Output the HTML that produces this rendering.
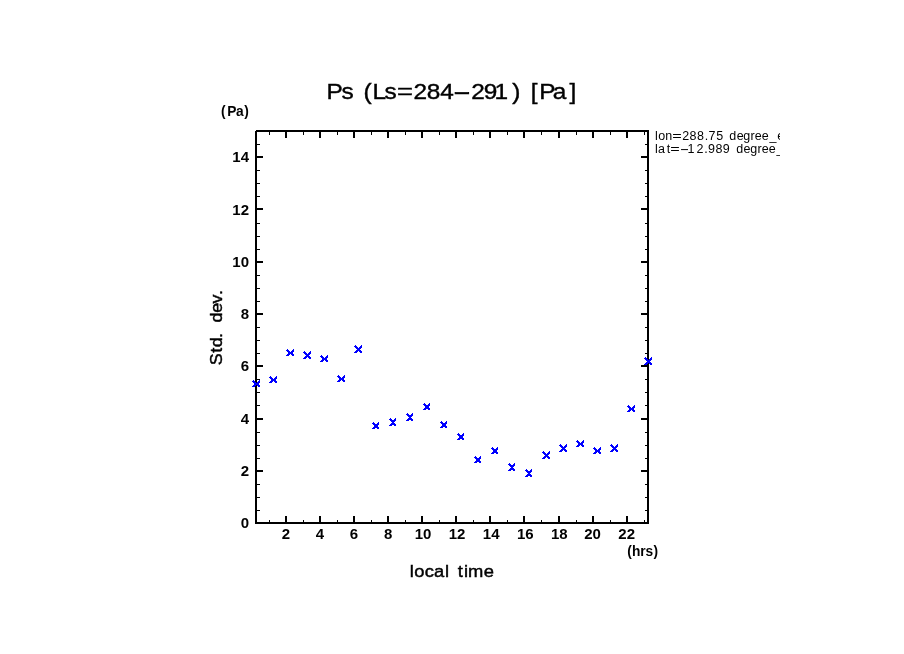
<!DOCTYPE html>
<html lang="en"><head><meta charset="utf-8"><title>Ps (Ls=284-291) [Pa]</title>
<style>
html,body{margin:0;padding:0;background:#fff;}
body{width:904px;height:654px;overflow:hidden;}
svg{display:block;}
text{font-family:"Liberation Sans",sans-serif;fill:#000;}
.b{font-weight:bold;}
</style></head><body>
<svg width="904" height="654" viewBox="0 0 904 654">
<rect x="0" y="0" width="904" height="654" fill="#ffffff"/>
<g shape-rendering="crispEdges" fill="#000">
<rect x="255" y="130" width="394" height="2"/>
<rect x="255" y="522" width="394" height="2"/>
<rect x="255" y="130" width="2" height="394"/>
<rect x="647" y="130" width="2" height="394"/>
<rect x="269" y="132" width="1" height="3"/>
<rect x="269" y="520" width="1" height="2"/>
<rect x="285" y="132" width="2" height="6"/>
<rect x="285" y="516" width="2" height="6"/>
<rect x="303" y="132" width="1" height="3"/>
<rect x="303" y="520" width="1" height="2"/>
<rect x="319" y="132" width="2" height="6"/>
<rect x="319" y="516" width="2" height="6"/>
<rect x="337" y="132" width="1" height="3"/>
<rect x="337" y="520" width="1" height="2"/>
<rect x="353" y="132" width="2" height="6"/>
<rect x="353" y="516" width="2" height="6"/>
<rect x="371" y="132" width="1" height="3"/>
<rect x="371" y="520" width="1" height="2"/>
<rect x="387" y="132" width="2" height="6"/>
<rect x="387" y="516" width="2" height="6"/>
<rect x="405" y="132" width="1" height="3"/>
<rect x="405" y="520" width="1" height="2"/>
<rect x="421" y="132" width="2" height="6"/>
<rect x="421" y="516" width="2" height="6"/>
<rect x="439" y="132" width="1" height="3"/>
<rect x="439" y="520" width="1" height="2"/>
<rect x="455" y="132" width="2" height="6"/>
<rect x="455" y="516" width="2" height="6"/>
<rect x="473" y="132" width="1" height="3"/>
<rect x="473" y="520" width="1" height="2"/>
<rect x="489" y="132" width="2" height="6"/>
<rect x="489" y="516" width="2" height="6"/>
<rect x="507" y="132" width="1" height="3"/>
<rect x="507" y="520" width="1" height="2"/>
<rect x="523" y="132" width="2" height="6"/>
<rect x="523" y="516" width="2" height="6"/>
<rect x="541" y="132" width="1" height="3"/>
<rect x="541" y="520" width="1" height="2"/>
<rect x="558" y="132" width="2" height="6"/>
<rect x="558" y="516" width="2" height="6"/>
<rect x="576" y="132" width="1" height="3"/>
<rect x="576" y="520" width="1" height="2"/>
<rect x="592" y="132" width="2" height="6"/>
<rect x="592" y="516" width="2" height="6"/>
<rect x="610" y="132" width="1" height="3"/>
<rect x="610" y="520" width="1" height="2"/>
<rect x="626" y="132" width="2" height="6"/>
<rect x="626" y="516" width="2" height="6"/>
<rect x="644" y="132" width="1" height="3"/>
<rect x="644" y="520" width="1" height="2"/>
<rect x="257" y="510" width="3" height="1"/>
<rect x="645" y="510" width="2" height="1"/>
<rect x="257" y="497" width="3" height="1"/>
<rect x="645" y="497" width="2" height="1"/>
<rect x="257" y="484" width="3" height="1"/>
<rect x="645" y="484" width="2" height="1"/>
<rect x="257" y="470" width="6" height="2"/>
<rect x="641" y="470" width="6" height="2"/>
<rect x="257" y="458" width="3" height="1"/>
<rect x="645" y="458" width="2" height="1"/>
<rect x="257" y="445" width="3" height="1"/>
<rect x="645" y="445" width="2" height="1"/>
<rect x="257" y="432" width="3" height="1"/>
<rect x="645" y="432" width="2" height="1"/>
<rect x="257" y="418" width="6" height="2"/>
<rect x="641" y="418" width="6" height="2"/>
<rect x="257" y="405" width="3" height="1"/>
<rect x="645" y="405" width="2" height="1"/>
<rect x="257" y="392" width="3" height="1"/>
<rect x="645" y="392" width="2" height="1"/>
<rect x="257" y="379" width="3" height="1"/>
<rect x="645" y="379" width="2" height="1"/>
<rect x="257" y="365" width="6" height="2"/>
<rect x="641" y="365" width="6" height="2"/>
<rect x="257" y="353" width="3" height="1"/>
<rect x="645" y="353" width="2" height="1"/>
<rect x="257" y="340" width="3" height="1"/>
<rect x="645" y="340" width="2" height="1"/>
<rect x="257" y="327" width="3" height="1"/>
<rect x="645" y="327" width="2" height="1"/>
<rect x="257" y="313" width="6" height="2"/>
<rect x="641" y="313" width="6" height="2"/>
<rect x="257" y="301" width="3" height="1"/>
<rect x="645" y="301" width="2" height="1"/>
<rect x="257" y="288" width="3" height="1"/>
<rect x="645" y="288" width="2" height="1"/>
<rect x="257" y="275" width="3" height="1"/>
<rect x="645" y="275" width="2" height="1"/>
<rect x="257" y="261" width="6" height="2"/>
<rect x="641" y="261" width="6" height="2"/>
<rect x="257" y="249" width="3" height="1"/>
<rect x="645" y="249" width="2" height="1"/>
<rect x="257" y="236" width="3" height="1"/>
<rect x="645" y="236" width="2" height="1"/>
<rect x="257" y="223" width="3" height="1"/>
<rect x="645" y="223" width="2" height="1"/>
<rect x="257" y="208" width="6" height="2"/>
<rect x="641" y="208" width="6" height="2"/>
<rect x="257" y="196" width="3" height="1"/>
<rect x="645" y="196" width="2" height="1"/>
<rect x="257" y="183" width="3" height="1"/>
<rect x="645" y="183" width="2" height="1"/>
<rect x="257" y="170" width="3" height="1"/>
<rect x="645" y="170" width="2" height="1"/>
<rect x="257" y="156" width="6" height="2"/>
<rect x="641" y="156" width="6" height="2"/>
<rect x="257" y="144" width="3" height="1"/>
<rect x="645" y="144" width="2" height="1"/>
<rect x="255" y="130" width="1" height="1" fill="#fff"/>
</g>
<g shape-rendering="crispEdges" fill="#0000ff">
<path d="M253 380h1v1h-1zM259 380h1v1h-1zM252 381h3v1h-3zM258 381h2v1h-2zM253 382h3v1h-3zM257 382h3v1h-3zM254 383h5v1h-5zM254 384h5v1h-5zM253 385h3v1h-3zM257 385h3v1h-3zM252 386h3v1h-3zM258 386h2v1h-2zM270 376h1v1h-1zM276 376h1v1h-1zM269 377h3v1h-3zM275 377h2v1h-2zM270 378h3v1h-3zM274 378h3v1h-3zM271 379h5v1h-5zM271 380h5v1h-5zM270 381h3v1h-3zM274 381h3v1h-3zM269 382h3v1h-3zM275 382h2v1h-2zM287 349h1v1h-1zM293 349h1v1h-1zM286 350h3v1h-3zM292 350h2v1h-2zM287 351h3v1h-3zM291 351h3v1h-3zM288 352h5v1h-5zM288 353h5v1h-5zM287 354h3v1h-3zM291 354h3v1h-3zM286 355h3v1h-3zM292 355h2v1h-2zM304 351h1v1h-1zM310 351h1v1h-1zM303 352h3v1h-3zM309 352h2v1h-2zM304 353h3v1h-3zM308 353h3v1h-3zM305 354h5v1h-5zM306 355h3v1h-3zM305 356h5v1h-5zM304 357h3v1h-3zM308 357h3v1h-3zM303 358h3v1h-3zM309 358h2v1h-2zM321 355h1v1h-1zM327 355h1v1h-1zM320 356h3v1h-3zM326 356h2v1h-2zM321 357h3v1h-3zM325 357h3v1h-3zM322 358h5v1h-5zM322 359h5v1h-5zM321 360h3v1h-3zM325 360h3v1h-3zM320 361h3v1h-3zM326 361h2v1h-2zM338 375h1v1h-1zM344 375h1v1h-1zM337 376h3v1h-3zM343 376h2v1h-2zM338 377h3v1h-3zM342 377h3v1h-3zM339 378h5v1h-5zM339 379h5v1h-5zM338 380h3v1h-3zM342 380h3v1h-3zM337 381h3v1h-3zM343 381h2v1h-2zM355 345h1v1h-1zM361 345h1v1h-1zM354 346h3v1h-3zM360 346h2v1h-2zM355 347h3v1h-3zM359 347h3v1h-3zM356 348h5v1h-5zM357 349h3v1h-3zM356 350h5v1h-5zM355 351h3v1h-3zM359 351h3v1h-3zM354 352h3v1h-3zM360 352h2v1h-2zM373 422h1v1h-1zM378 422h1v1h-1zM372 423h3v1h-3zM377 423h2v1h-2zM373 424h6v1h-6zM374 425h4v1h-4zM374 426h4v1h-4zM373 427h6v1h-6zM372 428h3v1h-3zM377 428h2v1h-2zM390 418h1v1h-1zM395 418h1v1h-1zM389 419h3v1h-3zM394 419h2v1h-2zM390 420h6v1h-6zM391 421h4v1h-4zM392 422h2v1h-2zM391 423h4v1h-4zM390 424h6v1h-6zM389 425h3v1h-3zM394 425h2v1h-2zM407 413h1v1h-1zM412 413h1v1h-1zM406 414h3v1h-3zM411 414h2v1h-2zM407 415h6v1h-6zM408 416h4v1h-4zM409 417h2v1h-2zM408 418h4v1h-4zM407 419h6v1h-6zM406 420h3v1h-3zM411 420h2v1h-2zM424 403h1v1h-1zM429 403h1v1h-1zM423 404h3v1h-3zM428 404h2v1h-2zM424 405h6v1h-6zM425 406h4v1h-4zM425 407h4v1h-4zM424 408h6v1h-6zM423 409h3v1h-3zM428 409h2v1h-2zM441 421h1v1h-1zM446 421h1v1h-1zM440 422h3v1h-3zM445 422h2v1h-2zM441 423h6v1h-6zM442 424h4v1h-4zM442 425h4v1h-4zM441 426h6v1h-6zM440 427h3v1h-3zM445 427h2v1h-2zM458 433h1v1h-1zM463 433h1v1h-1zM457 434h3v1h-3zM462 434h2v1h-2zM458 435h6v1h-6zM459 436h4v1h-4zM459 437h4v1h-4zM458 438h6v1h-6zM457 439h3v1h-3zM462 439h2v1h-2zM475 456h1v1h-1zM480 456h1v1h-1zM474 457h3v1h-3zM479 457h2v1h-2zM475 458h6v1h-6zM476 459h4v1h-4zM476 460h4v1h-4zM475 461h6v1h-6zM474 462h3v1h-3zM479 462h2v1h-2zM492 447h1v1h-1zM497 447h1v1h-1zM491 448h3v1h-3zM496 448h2v1h-2zM492 449h6v1h-6zM493 450h4v1h-4zM493 451h4v1h-4zM492 452h6v1h-6zM491 453h3v1h-3zM496 453h2v1h-2zM509 463h1v1h-1zM514 463h1v1h-1zM508 464h3v1h-3zM513 464h2v1h-2zM509 465h6v1h-6zM510 466h4v1h-4zM511 467h2v1h-2zM510 468h4v1h-4zM509 469h6v1h-6zM508 470h3v1h-3zM513 470h2v1h-2zM526 469h1v1h-1zM531 469h1v1h-1zM525 470h3v1h-3zM530 470h2v1h-2zM526 471h6v1h-6zM527 472h4v1h-4zM528 473h2v1h-2zM527 474h4v1h-4zM526 475h6v1h-6zM525 476h3v1h-3zM530 476h2v1h-2zM543 451h1v1h-1zM549 451h1v1h-1zM542 452h3v1h-3zM548 452h2v1h-2zM543 453h3v1h-3zM547 453h3v1h-3zM544 454h5v1h-5zM545 455h3v1h-3zM544 456h5v1h-5zM543 457h3v1h-3zM547 457h3v1h-3zM542 458h3v1h-3zM548 458h2v1h-2zM560 444h1v1h-1zM566 444h1v1h-1zM559 445h3v1h-3zM565 445h2v1h-2zM560 446h3v1h-3zM564 446h3v1h-3zM561 447h5v1h-5zM562 448h3v1h-3zM561 449h5v1h-5zM560 450h3v1h-3zM564 450h3v1h-3zM559 451h3v1h-3zM565 451h2v1h-2zM577 440h1v1h-1zM583 440h1v1h-1zM576 441h3v1h-3zM582 441h2v1h-2zM577 442h3v1h-3zM581 442h3v1h-3zM578 443h5v1h-5zM578 444h5v1h-5zM577 445h3v1h-3zM581 445h3v1h-3zM576 446h3v1h-3zM582 446h2v1h-2zM594 447h1v1h-1zM600 447h1v1h-1zM593 448h3v1h-3zM599 448h2v1h-2zM594 449h3v1h-3zM598 449h3v1h-3zM595 450h5v1h-5zM595 451h5v1h-5zM594 452h3v1h-3zM598 452h3v1h-3zM593 453h3v1h-3zM599 453h2v1h-2zM611 444h1v1h-1zM617 444h1v1h-1zM610 445h3v1h-3zM616 445h2v1h-2zM611 446h3v1h-3zM615 446h3v1h-3zM612 447h5v1h-5zM613 448h3v1h-3zM612 449h5v1h-5zM611 450h3v1h-3zM615 450h3v1h-3zM610 451h3v1h-3zM616 451h2v1h-2zM628 405h1v1h-1zM634 405h1v1h-1zM627 406h3v1h-3zM633 406h2v1h-2zM628 407h3v1h-3zM632 407h3v1h-3zM629 408h5v1h-5zM629 409h5v1h-5zM628 410h3v1h-3zM632 410h3v1h-3zM627 411h3v1h-3zM633 411h2v1h-2zM645 357h1v1h-1zM651 357h1v1h-1zM644 358h3v1h-3zM650 358h2v1h-2zM645 359h3v1h-3zM649 359h3v1h-3zM646 360h5v1h-5zM647 361h3v1h-3zM646 362h5v1h-5zM645 363h3v1h-3zM649 363h3v1h-3zM644 364h3v1h-3zM650 364h2v1h-2z"/>
</g>
<g id="labels" opacity="0.999">
<text transform="translate(326.45 98.65) scale(1.1200 1.0000)" x="0.00 13.44 24.34 33.12 41.22 51.78 62.92 77.64 89.65 101.51 112.86 129.21 140.42 150.15 165.91 173.17 182.31 190.00 201.96 217.04" y="0" font-size="21.8" stroke="#000" stroke-width="0.4">Ps (Ls<tspan textLength="14.26" lengthAdjust="spacingAndGlyphs">=</tspan>284<tspan textLength="16.33" lengthAdjust="spacingAndGlyphs">-</tspan>291) [Pa]</text>
<text class="b" transform="translate(221.12 115.65) scale(0.9500 1.0000)" x="0.00 6.56 15.69 24.34" y="0" font-size="14.5">(Pa)</text>
<text class="b" transform="translate(627.20 555.65) scale(0.9500 1.0000)" x="0.00 5.13 13.82 19.38 27.68" y="0" font-size="14.5">(hrs)</text>
<text transform="translate(409.81 576.60) scale(1.0800 1.0000)" x="0.00 4.20 13.80 22.36 32.59 36.37 44.42 50.10 53.91 68.43" y="0" font-size="17" stroke="#000" stroke-width="0.45">local time</text>
<text transform="translate(222.30 365.15) rotate(-90) scale(1.0500 1.0000)" x="0.00 11.81 16.99 25.92 30.65 40.56 49.86 58.61 66.92" y="0" font-size="17" stroke="#000" stroke-width="0.45">Std. dev.</text>
<text class="b" transform="translate(249.00 528.20)" font-size="15" text-anchor="end">0</text>
<text class="b" transform="translate(249.00 475.93)" font-size="15" text-anchor="end">2</text>
<text class="b" transform="translate(249.00 423.67)" font-size="15" text-anchor="end">4</text>
<text class="b" transform="translate(249.00 371.40)" font-size="15" text-anchor="end">6</text>
<text class="b" transform="translate(249.00 319.13)" font-size="15" text-anchor="end">8</text>
<text class="b" transform="translate(249.00 266.87)" font-size="15" text-anchor="end">10</text>
<text class="b" transform="translate(249.00 214.60)" font-size="15" text-anchor="end">12</text>
<text class="b" transform="translate(249.00 162.33)" font-size="15" text-anchor="end">14</text>
<text class="b" transform="translate(285.83 539.10)" font-size="15" text-anchor="middle">2</text>
<text class="b" transform="translate(319.91 539.10)" font-size="15" text-anchor="middle">4</text>
<text class="b" transform="translate(354.00 539.10)" font-size="15" text-anchor="middle">6</text>
<text class="b" transform="translate(388.09 539.10)" font-size="15" text-anchor="middle">8</text>
<text class="b" transform="translate(422.97 539.10)" font-size="15" text-anchor="middle">10</text>
<text class="b" transform="translate(457.06 539.10)" font-size="15" text-anchor="middle">12</text>
<text class="b" transform="translate(491.15 539.10)" font-size="15" text-anchor="middle">14</text>
<text class="b" transform="translate(525.23 539.10)" font-size="15" text-anchor="middle">16</text>
<text class="b" transform="translate(559.32 539.10)" font-size="15" text-anchor="middle">18</text>
<text class="b" transform="translate(592.61 539.10)" font-size="15" text-anchor="middle">20</text>
<text class="b" transform="translate(626.70 539.10)" font-size="15" text-anchor="middle">22</text>
<clipPath id="clipR"><rect x="650" y="120" width="130" height="45"/></clipPath>
<g clip-path="url(#clipR)">
<text transform="translate(655.06 139.90)" x="0.00 3.17 10.11 17.15 27.17 34.49 41.87 49.61 53.46 61.18 68.13 74.11 81.58 88.26 95.40 99.78 106.68 114.44 122.18" y="0" font-size="12.5">lon<tspan textLength="9.49" lengthAdjust="spacingAndGlyphs">=</tspan>288.75 degree_e</text>
<text transform="translate(655.06 152.80)" x="0.00 2.90 11.81 15.25 24.65 32.40 41.47 49.21 53.07 60.47 67.77 74.72 81.11 88.33 95.21 102.40 106.68 113.68 121.44" y="0" font-size="12.5">lat<tspan textLength="9.49" lengthAdjust="spacingAndGlyphs">=</tspan><tspan textLength="9.57" lengthAdjust="spacingAndGlyphs">-</tspan>12.989 degree_</text>
</g>
</g>
</svg>
</body></html>
